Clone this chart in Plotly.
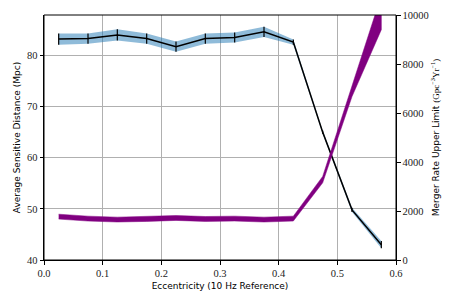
import plotly.graph_objects as go

ecc = [0.025, 0.075, 0.125, 0.175, 0.225, 0.275, 0.325, 0.375, 0.425, 0.475, 0.525, 0.575]
distance = [83.2, 83.3, 84.0, 83.3, 81.7, 83.3, 83.5, 84.6, 82.6, 65.0, 49.8, 43.0]
distance_err = [1.1, 1.0, 1.1, 1.0, 1.0, 1.0, 1.0, 1.0, 0.5, 0.3, 0.4, 0.7]
rate = [1770, 1690, 1650, 1675, 1715, 1675, 1690, 1650, 1690, 3280, 6870, 10100]
rate_err = [100, 100, 100, 100, 100, 100, 100, 100, 100, 130, 200, 700]

x_ticks = [0.0, 0.1, 0.2, 0.3, 0.4, 0.5, 0.6]
y_ticks = [40, 50, 60, 70, 80]
y2_ticks = [0, 2000, 4000, 6000, 8000, 10000]

serif = "Liberation Serif"
sans = "DejaVu Sans"

d_up = [d + e for d, e in zip(distance, distance_err)]
d_lo = [d - e for d, e in zip(distance, distance_err)]
r_up = [r + e for r, e in zip(rate, rate_err)]
r_lo = [r - e for r, e in zip(rate, rate_err)]

fig = go.Figure()
fig.add_trace(go.Scatter(x=ecc + ecc[::-1], y=d_up + d_lo[::-1], fill="toself",
                         fillcolor="rgba(31,119,180,0.5)", line=dict(width=0),
                         mode="lines", hoverinfo="skip", showlegend=False))
fig.add_trace(go.Scatter(x=ecc, y=distance, mode="lines",
                         line=dict(color="black", width=1.5),
                         error_y=dict(type="data", array=distance_err, color="black",
                                      thickness=1.2, width=0),
                         showlegend=False))
fig.add_trace(go.Scatter(x=ecc + ecc[::-1], y=r_up + r_lo[::-1], fill="toself",
                         fillcolor="#800080", line=dict(width=0.5, color="#800080"),
                         mode="lines", yaxis="y2", hoverinfo="skip", showlegend=False))

axis_common = dict(showline=True, linecolor="black", linewidth=1,
                   ticks="outside", ticklen=3.5, tickwidth=1, tickcolor="black",
                   zeroline=False, automargin=False,
                   tickfont=dict(family=serif, size=10.5, color="#222"))

title_font = dict(family=sans, size=9, color="black")

fig.update_layout(
    width=449, height=297,
    margin=dict(l=36, r=61, t=7, b=45),
    plot_bgcolor="white", paper_bgcolor="white",
    xaxis=dict(range=[0, 0.6], tickvals=x_ticks, ticktext=[f"{v:.1f}" for v in x_ticks],
               showgrid=True, gridcolor="#b0b0b0", gridwidth=1,
               title=dict(text="Eccentricity (10 Hz Reference)", font=title_font, standoff=4),
               **axis_common),
    yaxis=dict(range=[40, 87.9], tickvals=y_ticks, showgrid=True, gridcolor="#b0b0b0",
               gridwidth=1,
               title=dict(text="Average Sensitive Distance (Mpc)", font=title_font, standoff=4),
               **axis_common),
    yaxis2=dict(range=[0, 10000], tickvals=y2_ticks, ticktext=[str(v) for v in y2_ticks],
                overlaying="y", side="right", showgrid=False,
                title=dict(text="Merger Rate Upper Limit <span style='font-family:Liberation Serif'>(Gpc<sup>−3</sup>Yr<sup>−1</sup>)</span>",
                           font=title_font, standoff=4),
                **axis_common),
)
fig.add_shape(type="rect", xref="paper", yref="paper", x0=0, y0=0, x1=1, y1=1,
              line=dict(color="black", width=1), layer="above")

fig.write_html("out.html")
